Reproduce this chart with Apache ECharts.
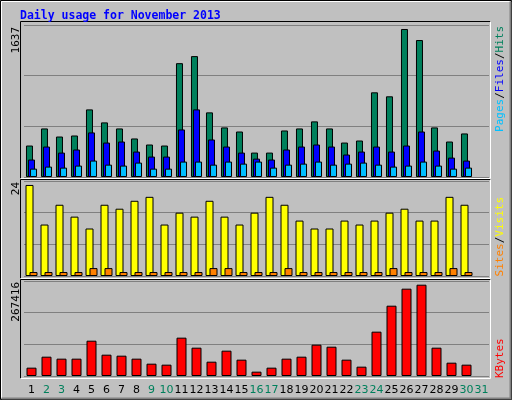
<!DOCTYPE html>
<html><head><meta charset="utf-8">
<script src="https://cdn.jsdelivr.net/npm/echarts@6/dist/echarts.min.js"></script>
<style>html,body{margin:0;padding:0;background:#c0c0c0}#c{width:512px;height:400px}</style>
</head><body><div id="c"></div>
<script>
const days = ['1','2','3','4','5','6','7','8','9','10','11','12','13','14','15','16','17','18','19','20','21','22','23','24','25','26','27','28','29','30','31'];
const weekend = ['2','3','9','10','16','17','23','24','30','31'];
const hits  = [339,523,436,447,728,588,523,415,350,339,1226,1302,696,534,490,263,263,501,523,599,523,371,393,912,869,1594,1475,534,382,469];
const files = [188,328,263,296,480,371,382,274,220,220,512,728,404,328,263,198,188,296,328,350,328,242,274,328,274,339,490,285,209,177];
const pages = [90,112,101,123,177,133,123,155,90,90,166,166,133,166,144,166,101,133,144,166,133,144,155,133,112,123,166,123,90,101];
const visits = [23,13,18,15,12,18,17,19,20,13,16,15,19,15,13,16,20,18,14,12,12,14,13,14,16,17,14,14,20,18];
const sites  = [1,1,1,1,2,2,1,1,1,1,1,1,2,2,1,1,1,2,1,1,1,1,1,1,2,1,1,1,2,1];
const kbytes = [23450,54400,48800,48800,99400,60000,57200,48800,34700,31900,107900,79700,40300,71300,46000,12200,23450,48800,54400,88200,82500,46000,26300,124800,197900,245800,257000,79700,37500,31900];
const maxHits = 1637, maxVisits = 24, maxKB = 267416;

const chart = echarts.init(document.getElementById('c'));
const mono = 'DejaVu Sans Mono';
const L = 24, W = 465;
const panels = [[25,152],[181,95],[281,95]];
const grids = panels.map(p => ({left:L, top:p[0], width:W, height:p[1]}));
const xA = (i, show) => ({type:'category', gridIndex:i, data:days,
  axisLine:{show:false}, axisTick:{show:false},
  axisLabel: show ? {interval:0, margin:9, fontFamily:'DejaVu Sans', fontSize:11,
    formatter: v => weekend.includes(v) ? '{w|'+v+'}' : '{n|'+v+'}',
    rich:{w:{color:'#00805c',fontFamily:'DejaVu Sans',fontSize:11}, n:{color:'#000',fontFamily:'DejaVu Sans',fontSize:11}}} : {show:false}});
const yA = (i, max) => ({type:'value', gridIndex:i, min:0, max:max, interval:max/3,
  axisLabel:{show:false}, axisLine:{show:false}, axisTick:{show:false},
  splitLine:{lineStyle:{color:'#808080', width:1}}});
const bar = (name, data, color, xi, w, gap) => ({type:'bar', name, data, xAxisIndex:xi, yAxisIndex:xi,
  barWidth:w, barGap:gap, itemStyle:{color, borderColor:'#000', borderWidth:1}, animation:false});

const sunk = (x,y,w,h) => [
  {type:'polyline', shape:{points:[[x,y+h],[x,y],[x+w,y]]}, style:{stroke:'#000',lineWidth:1,fill:null}},
  {type:'polyline', shape:{points:[[x+w,y],[x+w,y+h],[x,y+h]]}, style:{stroke:'#fff',lineWidth:1,fill:null}}];
const rotText = (x,y,rich,str,align) => ({type:'text', x, y, rotation:Math.PI/2,
  style:{text:str, rich, textAlign:align, textVerticalAlign:'middle', font:'11px '+mono}});

chart.setOption({
  backgroundColor:'#c0c0c0',
  animation:false,
  grid: grids,
  xAxis: [xA(0,false), xA(1,false), xA(2,true)],
  yAxis: [yA(0,maxHits), yA(1,maxVisits), yA(2,maxKB)],
  series: [
    bar('Hits', hits, '#00805c', 0, 7, '-71%'),
    bar('Files', files, '#0000ff', 0, 7, '-71%'),
    bar('Pages', pages, '#00c0ff', 0, 7, '-71%'),
    bar('Visits', visits, '#ffff00', 1, 8, '-50%'),
    bar('Sites', sites, '#ff8000', 1, 8, '-50%'),
    bar('KBytes', kbytes, '#ff0000', 2, 10, '0%')
  ],
  graphic: [
    {type:'rect', shape:{x:0.5,y:0.5,width:511,height:399}, style:{fill:null, stroke:'#000', lineWidth:1}, silent:true},
    {type:'polyline', shape:{points:[[1.5,398],[1.5,1.5],[510,1.5]]}, style:{stroke:'#fff',lineWidth:1,fill:null}},
    {type:'polyline', shape:{points:[[510.5,1.5],[510.5,398.5],[1.5,398.5]]}, style:{stroke:'#808080',lineWidth:2,fill:null}},
    ...sunk(20.5,21.5,470,157),
    ...sunk(20.5,179.5,470,99),
    ...sunk(20.5,279.5,470,99),
    {type:'text', x:20, y:16, style:{text:'Daily usage for November 2013', font:'bold 11.5px '+mono, fill:'#0000ff', textVerticalAlign:'middle'}},
    {type:'text', x:16, y:27, rotation:Math.PI/2, style:{text:String(maxHits), font:'11px '+mono, fill:'#000', textAlign:'right', textVerticalAlign:'middle'}},
    {type:'text', x:16, y:182, rotation:Math.PI/2, style:{text:String(maxVisits), font:'11px '+mono, fill:'#000', textAlign:'right', textVerticalAlign:'middle'}},
    {type:'text', x:16, y:282, rotation:Math.PI/2, style:{text:String(maxKB), font:'11px '+mono, fill:'#000', textAlign:'right', textVerticalAlign:'middle'}},
    {type:'text', x:500, y:26, rotation:Math.PI/2, style:{text:'{p|Pages}{k|/}{f|Files}{k|/}{h|Hits}', textAlign:'right', textVerticalAlign:'middle', font:'11px '+mono,
      rich:{p:{fill:'#00c0ff',font:'11px '+mono},f:{fill:'#0000ff',font:'11px '+mono},h:{fill:'#00805c',font:'11px '+mono},k:{fill:'#000',font:'11px '+mono}}}},
    {type:'text', x:500, y:197, rotation:Math.PI/2, style:{text:'{s|Sites}{k|/}{v|Visits}', textAlign:'right', textVerticalAlign:'middle', font:'11px '+mono,
      rich:{s:{fill:'#ff8000',font:'11px '+mono},v:{fill:'#ffff00',font:'11px '+mono},k:{fill:'#000',font:'11px '+mono}}}},
    {type:'text', x:500, y:378, rotation:Math.PI/2, style:{text:'KBytes', fill:'#ff0000', textAlign:'left', textVerticalAlign:'middle', font:'11px '+mono}}
  ]
});
</script></body></html>
